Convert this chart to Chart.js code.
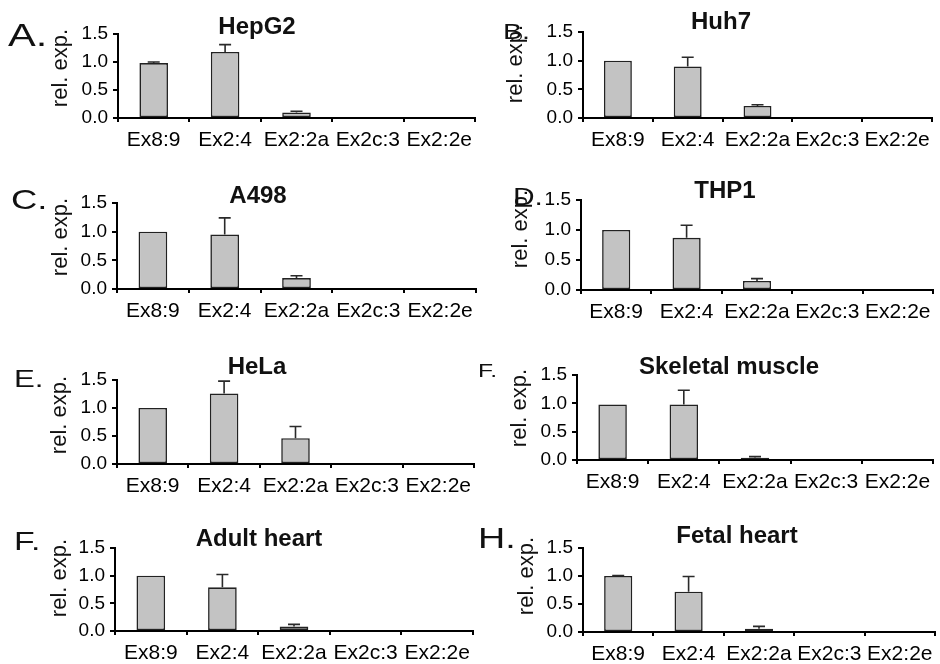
<!DOCTYPE html>
<html>
<head>
<meta charset="utf-8">
<script src="https://cdn.jsdelivr.net/npm/chart.js@4.4.1/dist/chart.umd.min.js"></script>
<style>
  body { margin: 0; background: #fff; }
  #fig { position: relative; width: 940px; height: 664px; overflow: hidden; background: #fff; }
  .panel { position: absolute; }
</style>
</head>
<body>
<div id="fig"></div>
<script>
// categories and tick labels
const categories = ['Ex8:9', 'Ex2:4', 'Ex2:2a', 'Ex2c:3', 'Ex2:2e']
const yTicks = [0, 0.5, 1.0, 1.5]
const panelLetters = ['A.', 'B.', 'C.', 'D.', 'E.', 'F.', 'F.', 'H.']
const panelTitles = ['HepG2', 'Huh7', 'A498', 'THP1', 'HeLa', 'Skeletal muscle', 'Adult heart', 'Fetal heart']
const yTitle = 'rel. exp.'

// relative expression (mean) and error (one-sided, upward)
const hepg2 = [0.98, 1.18, 0.10, 0, 0]
const hepg2Err = [0.02, 0.13, 0.02, 0, 0]
const huh7 = [1.0, 0.90, 0.21, 0, 0]
const huh7Err = [0, 0.16, 0.02, 0, 0]
const a498 = [1.0, 0.95, 0.19, 0, 0]
const a498Err = [0, 0.29, 0.04, 0, 0]
const thp1 = [1.0, 0.87, 0.15, 0, 0]
const thp1Err = [0, 0.21, 0.04, 0, 0]
const hela = [1.0, 1.26, 0.46, 0, 0]
const helaErr = [0, 0.22, 0.21, 0, 0]
const skeletal = [0.98, 0.98, 0.04, 0, 0]
const skeletalErr = [0, 0.25, 0.02, 0, 0]
const adultHeart = [1.0, 0.79, 0.08, 0, 0]
const adultHeartErr = [0, 0.23, 0.04, 0, 0]
const fetalHeart = [1.0, 0.72, 0.06, 0, 0]
const fetalHeartErr = [0.01, 0.27, 0.04, 0, 0]

const series = [hepg2, huh7, a498, thp1, hela, skeletal, adultHeart, fetalHeart]
const errors = [hepg2Err, huh7Err, a498Err, thp1Err, helaErr, skeletalErr, adultHeartErr, fetalHeartErr]

// layout (page pixels): plot area [left, right, top, bottom]
const plotBoxes = [
    [118, 475, 34, 118], [583, 932, 32, 118],
    [117, 476, 203, 289], [581, 933, 200, 290],
    [117, 474, 380, 464], [577, 933, 375, 460],
    [115, 473, 548, 631], [583, 935, 548, 632]
]
// title centre x, centre y, font size
const titlePos = [
    [257, 27, 24], [721, 22, 24], [258, 196, 24], [725, 191, 24],
    [257, 367, 24], [729, 367, 24], [259, 539, 24], [737, 536, 24]
]
// panel letter left x, baseline y, font size
const letterPos = [
    [8, 46, 32], [503, 39, 22], [11, 209, 28], [513, 205, 23],
    [14, 387, 24], [478, 377, 19], [14, 550, 26], [478, 548, 29]
]
// y axis title centre x, centre y
const yTitlePos = [
    [61, 68], [516, 64], [61, 237], [521, 229],
    [60, 415], [520, 408], [60, 578], [527, 576]
]
const rowTops = [0, 166, 332, 498]
const FONT = "'Liberation Sans', Arial, Helvetica, sans-serif"

Chart.defaults.font.family = FONT
Chart.defaults.color = '#000'

const errorBars = {
    id: 'errorBars',
    afterDatasetsDraw(chart, args, opts) {
        const ctx = chart.ctx
        const yScale = chart.scales.y
        const meta = chart.getDatasetMeta(0)
        const values = chart.data.datasets[0].data
        ctx.save()
        ctx.strokeStyle = '#2a2a2a'
        ctx.lineWidth = 1.6
        meta.data.forEach((bar, i) => {
            const e = opts.errors[i]
            if (!e) return
            const top = yScale.getPixelForValue(values[i] + e)
            ctx.beginPath()
            ctx.moveTo(bar.x, bar.y)
            ctx.lineTo(bar.x, top)
            ctx.moveTo(bar.x - 6, top)
            ctx.lineTo(bar.x + 6, top)
            ctx.stroke()
        })
        ctx.restore()
    }
}

const panelText = {
    id: 'panelText',
    afterDraw(chart, args, o) {
        const ctx = chart.ctx
        ctx.save()
        ctx.fillStyle = '#111'

        // panel letter
        ctx.save()
        ctx.translate(o.letter[0] - o.ox, o.letter[1] - o.oy)
        ctx.scale(1.3, 1)
        ctx.font = `${o.letter[2]}px ${FONT}`
        ctx.textAlign = 'left'
        ctx.textBaseline = 'alphabetic'
        ctx.fillText(o.letterText, 0, 0)
        ctx.restore()

        // title
        ctx.font = `bold ${o.title[2]}px ${FONT}`
        ctx.textAlign = 'center'
        ctx.textBaseline = 'middle'
        ctx.fillText(o.titleText, o.title[0] - o.ox, o.title[1] - o.oy)

        // y axis title
        ctx.save()
        ctx.translate(o.yTitle[0] - o.ox, o.yTitle[1] - o.oy)
        ctx.rotate(-Math.PI / 2)
        ctx.font = `22px ${FONT}`
        ctx.fillText(yTitle, 0, 0)
        ctx.restore()

        ctx.restore()
    }
}

const fig = document.getElementById('fig')

function crearPanel(i) {
    const [l, r, t, b] = plotBoxes[i]
    const ox = i % 2 ? 470 : 0
    const oy = rowTops[Math.floor(i / 2)]
    const w = i % 2 ? 470 : 490
    const h = i < 6 ? 180 : 166

    const div = document.createElement('div')
    div.className = 'panel'
    div.style.left = ox + 'px'
    div.style.top = oy + 'px'
    div.style.width = w + 'px'
    div.style.height = h + 'px'
    const canvas = document.createElement('canvas')
    div.appendChild(canvas)
    fig.appendChild(div)

    const config = {
        type: 'bar',
        data: {
            labels: categories,
            datasets: [{
                data: series[i],
                backgroundColor: '#c3c3c3',
                borderColor: '#222',
                borderWidth: 1.6,
                borderSkipped: false,
                barPercentage: 0.4,
                categoryPercentage: 1
            }]
        },
        options: {
            responsive: true,
            maintainAspectRatio: false,
            animation: false,
            layout: {
                padding: { left: 0, bottom: 0, top: t - oy, right: ox + w - r }
            },
            plugins: {
                legend: { display: false },
                tooltip: { enabled: false },
                errorBars: { errors: errors[i] },
                panelText: {
                    ox, oy,
                    letter: letterPos[i], letterText: panelLetters[i],
                    title: titlePos[i], titleText: panelTitles[i],
                    yTitle: yTitlePos[i]
                }
            },
            scales: {
                x: {
                    offset: true,
                    ticks: {
                        autoSkip: false,
                        maxRotation: 0,
                        padding: 6,
                        color: '#000',
                        font: { size: 21 }
                    },
                    grid: {
                        offset: true,
                        drawOnChartArea: false,
                        tickLength: 4,
                        color: '#000',
                        lineWidth: 2
                    },
                    border: { color: '#000', width: 2 },
                    afterFit: s => { s.height = oy + h - b }
                },
                y: {
                    min: 0,
                    max: 1.5,
                    afterBuildTicks: s => { s.ticks = yTicks.map(v => ({ value: v })) },
                    ticks: {
                        padding: 5,
                        color: '#000',
                        font: { size: 19 },
                        callback: v => Number(v).toFixed(1)
                    },
                    grid: {
                        drawOnChartArea: false,
                        tickLength: 5,
                        color: '#000',
                        lineWidth: 2
                    },
                    border: { color: '#000', width: 2 },
                    afterFit: s => { s.width = l - ox }
                }
            }
        },
        plugins: [errorBars, panelText]
    }

    new Chart(canvas, config)
}

for (let i = 0; i < 8; i++) crearPanel(i)
</script>
</body>
</html>
